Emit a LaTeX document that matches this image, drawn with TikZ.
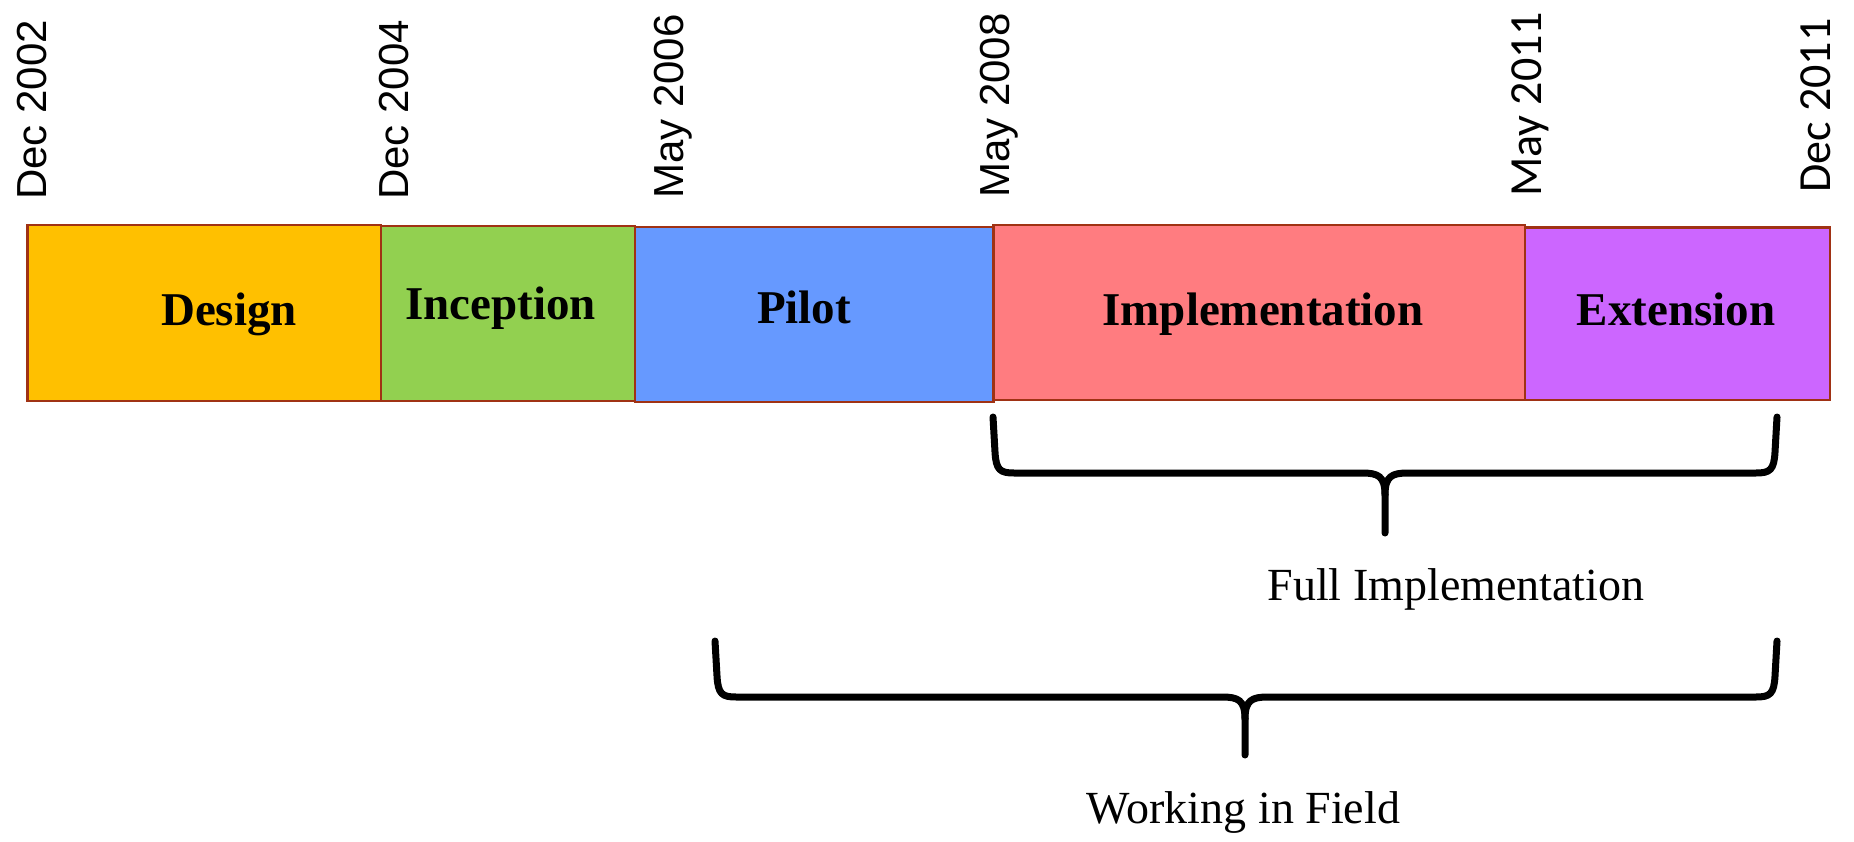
\documentclass[tikz,border=0pt]{standalone}
\usepackage{fontspec}
\setmainfont{Liberation Serif}
\newfontfamily\datefont{Liberation Sans}
\newfontfamily\datefontb{Carlito}
\definecolor{edgecol}{RGB}{160,50,20}
\definecolor{cdesign}{RGB}{255,192,0}
\definecolor{cincep}{RGB}{146,208,80}
\definecolor{cpilot}{RGB}{102,153,255}
\definecolor{cimpl}{RGB}{255,124,128}
\definecolor{cext}{RGB}{204,102,255}
\begin{document}
\begin{tikzpicture}[x=1pt,y=-1pt,
  box/.style={draw=edgecol, line width=2.5pt, inner sep=0pt, outer sep=0pt, anchor=north west},
  phase/.style={font=\fontsize{47}{50}\selectfont\bfseries, anchor=base, inner sep=0pt},
  datelbl/.style={rotate=90, anchor=base west, inner sep=0pt, font=\datefont\fontsize{42}{44}\selectfont},
  datelblb/.style={rotate=90, anchor=base west, inner sep=0pt, font=\datefontb\fontsize{46}{48}\selectfont},
  brace/.style={line width=7pt, line cap=round, line join=round},
  note/.style={font=\fontsize{46}{48}\selectfont, anchor=base, inner sep=0pt}]
\useasboundingbox (0,0) rectangle (1854,842);

% phase boxes
\node[box, fill=cdesign, minimum width=353.1pt, minimum height=176pt] (design) at (27.7,225) {};
\node[box, fill=cincep, minimum width=254.2pt, minimum height=175pt] (inception) at (380.8,226) {};
\node[box, fill=cpilot, minimum width=358.5pt, minimum height=175pt] (pilot) at (635,227) {};
\node[box, fill=cimpl, minimum width=531.5pt, minimum height=175pt] (impl) at (993.5,225) {};
\node[box, fill=cext, minimum width=305pt, minimum height=172.5pt] (ext) at (1525,227.5) {};

% phase labels
\node[phase] (ldesign) at (229,325) {Design};
\node[phase] (lincep) at (500.5,319) {Inception};
\node[phase] (lpilot) at (804,323) {Pilot};
\node[phase] (limpl) at (1263,325) {Implementation};
\node[phase] (lext) at (1676,325) {Extension};

% dates
\node[datelbl] (d1) at (46.9,200) {Dec 2002};
\node[datelbl] (d2) at (408.5,200) {Dec 2004};
\node[datelbl] (d3) at (683,199) {May 2006};
\node[datelbl] (d4) at (1009.4,198) {May 2008};
\node[datelblb] (d5) at (1541,197) {May 2011};
\node[datelblb] (d6) at (1830,193) {Dec 2011};

% brace 1: Full Implementation
\coordinate (b1l) at (993,417);
\coordinate (b1r) at (1777,417);
\coordinate (b1t) at (1385,533);
\draw[brace] (b1l) -- (995,452) .. controls (996,470) and (1000,473) .. (1014,473)
  -- (1362,473) .. controls (1378,473) and (1385,476) .. (1385,495) -- (b1t);
\draw[brace] (b1r) -- (1775,452) .. controls (1774,470) and (1770,473) .. (1756,473)
  -- (1408,473) .. controls (1392,473) and (1385,476) .. (1385,495);
\node[note] (fi) at (1456,600) {Full Implementation};

% brace 2: Working in Field
\coordinate (b2l) at (715,641);
\coordinate (b2r) at (1777,641);
\coordinate (b2t) at (1245,755);
\draw[brace] (b2l) -- (717,676) .. controls (718,694) and (722,697) .. (736,697)
  -- (1222,697) .. controls (1238,697) and (1245,700) .. (1245,719) -- (b2t);
\draw[brace] (b2r) -- (1775,676) .. controls (1774,694) and (1770,697) .. (1756,697)
  -- (1268,697) .. controls (1252,697) and (1245,700) .. (1245,719);
\node[note] (wf) at (1243.5,823) {Working in Field};
\end{tikzpicture}
\end{document}
